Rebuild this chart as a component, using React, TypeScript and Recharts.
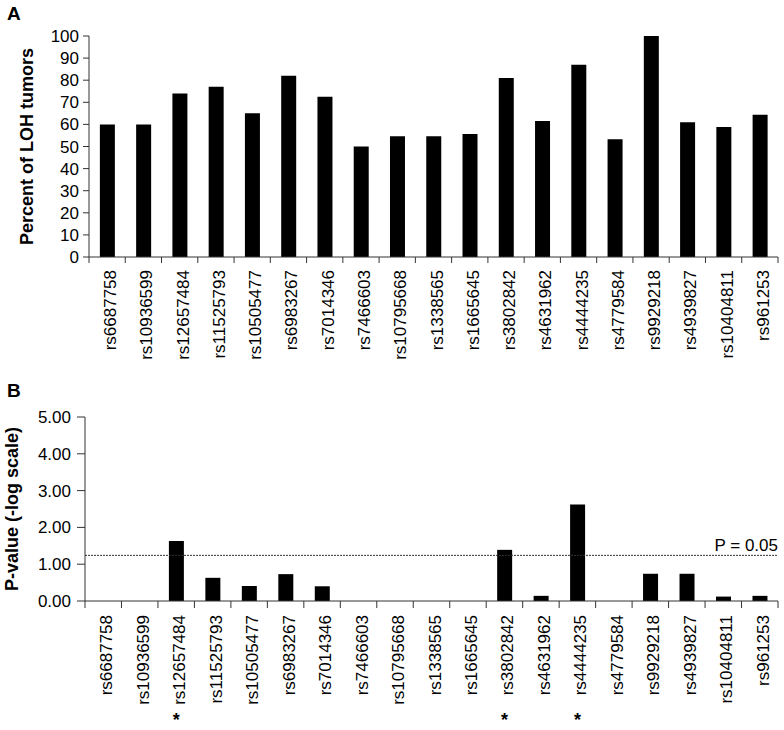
import React from 'react';
import { BarChart, Bar, XAxis, YAxis, ReferenceLine } from 'recharts';

const FONT = '"Liberation Sans", Arial, Helvetica, sans-serif';
const AXIS = '#333333';

const snps = [
  'rs6687758', 'rs10936599', 'rs12657484', 'rs11525793', 'rs10505477',
  'rs6983267', 'rs7014346', 'rs7466603', 'rs10795668', 'rs1338565',
  'rs1665645', 'rs3802842', 'rs4631962', 'rs4444235', 'rs4779584',
  'rs9929218', 'rs4939827', 'rs10404811', 'rs961253',
];
const lohPercent = [60, 60, 74, 77, 65, 82, 72.5, 50, 54.6, 54.6, 55.7, 81, 61.5, 87, 53.3, 100, 61, 58.8, 64.4];
const pValueLog = [0, 0, 1.63, 0.63, 0.41, 0.73, 0.4, 0, 0, 0, 0, 1.39, 0.14, 2.62, 0, 0.74, 0.74, 0.12, 0.14];
const significant = ['rs12657484', 'rs3802842', 'rs4444235'];
const lohTicks = [0, 10, 20, 30, 40, 50, 60, 70, 80, 90, 100];
const pTicks = [0, 1, 2, 3, 4, 5];
const pThreshold = 1.24;
const pThresholdLabel = 'P = 0.05';

const topData = snps.map((snp, i) => ({ snp, loh: lohPercent[i] }));
const bottomData = snps.map((snp, i) => ({ snp, pval: pValueLog[i] }));

const CatTick = (props: any) => {
  const { x, y, payload, index, visibleTicksCount, width, tickLen, labelGap, showStars, starGap } = props;
  const count = visibleTicksCount || snps.length;
  const half = payload && typeof payload.offset === 'number' && payload.offset > 0 ? payload.offset : width / (count * 2);
  const lx = x + 9;
  const ly = y + labelGap;
  const isLast = index === count - 1;
  const star = showStars && significant.includes(payload.value);
  return (
    <g>
      <line x1={x - half} x2={x - half} y1={y} y2={y + tickLen} stroke={AXIS} strokeWidth={1} />
      {isLast && <line x1={x + half} x2={x + half} y1={y} y2={y + tickLen} stroke={AXIS} strokeWidth={1} />}
      <text x={lx} y={ly} transform={`rotate(-90, ${lx}, ${ly})`} textAnchor="end" fontSize={17} fontFamily={FONT} fill="#000">
        {payload.value}
      </text>
      {star && (
        <text x={x} y={y + starGap} textAnchor="middle" fontSize={18} fontWeight="bold" fontFamily={FONT} fill="#000">
          *
        </text>
      )}
    </g>
  );
};

const yLabel = (text: string, bx: number) => (p: any) => {
  const vb = p.viewBox || {};
  const cy = vb.y + vb.height / 2;
  return (
    <text x={bx} y={cy} transform={`rotate(-90, ${bx}, ${cy})`} textAnchor="middle" fontSize={18} fontWeight="bold" fontFamily={FONT} fill="#000">
      {text}
    </text>
  );
};

const refLabel = (p: any) => {
  const vb = p.viewBox || {};
  return (
    <text x={vb.x + vb.width} y={vb.y - 4} textAnchor="end" fontSize={17} fontFamily={FONT} fill="#000">
      {pThresholdLabel}
    </text>
  );
};

export default function App() {
  return (
    <div style={{ position: 'absolute', left: 0, top: 0, width: 784, height: 730, overflow: 'hidden', background: '#fff', fontFamily: FONT }}>
      <div style={{ position: 'absolute', left: 7, top: 3, fontSize: 19, fontWeight: 'bold', color: '#000' }}>A</div>
      <div style={{ position: 'absolute', left: 7, top: 380, fontSize: 19, fontWeight: 'bold', color: '#000' }}>B</div>
      <div style={{ position: 'absolute', left: 0, top: 0 }}>
        <BarChart width={784} height={365} data={topData} margin={{ top: 36, right: 6, bottom: 8, left: 0 }} barCategoryGap="30%">
          <XAxis
            dataKey="snp"
            interval={0}
            height={100}
            tickSize={0}
            tickMargin={0}
            tickLine={false}
            axisLine={{ stroke: AXIS }}
            tick={(p: any) => <CatTick {...p} tickLen={6} labelGap={13} showStars={false} starGap={0} />}
          />
          <YAxis
            width={89}
            domain={[0, 100]}
            ticks={lohTicks}
            interval={0}
            tickSize={6}
            tickMargin={4}
            axisLine={{ stroke: AXIS }}
            tickLine={{ stroke: AXIS }}
            tick={{ fill: '#000', fontSize: 17, fontFamily: FONT }}
            label={{ content: yLabel('Percent of LOH tumors', 33) }}
          />
          <Bar dataKey="loh" fill="#000" isAnimationActive={false} />
        </BarChart>
      </div>
      <div style={{ position: 'absolute', left: 0, top: 365 }}>
        <BarChart width={784} height={365} data={bottomData} margin={{ top: 52, right: 6, bottom: 9, left: 0 }} barCategoryGap="30%">
          <XAxis
            dataKey="snp"
            interval={0}
            height={120}
            tickSize={0}
            tickMargin={0}
            tickLine={false}
            axisLine={{ stroke: AXIS }}
            tick={(p: any) => <CatTick {...p} tickLen={7} labelGap={14} showStars={true} starGap={125} />}
          />
          <YAxis
            width={85}
            domain={[0, 5]}
            ticks={pTicks}
            interval={0}
            tickSize={8}
            tickMargin={6}
            axisLine={{ stroke: AXIS }}
            tickLine={{ stroke: AXIS }}
            tickFormatter={(v: number) => v.toFixed(2)}
            tick={{ fill: '#000', fontSize: 17, fontFamily: FONT }}
            label={{ content: yLabel('P-value (-log scale)', 18) }}
          />
          <ReferenceLine y={pThreshold} stroke={AXIS} strokeDasharray="2 1" strokeWidth={1} label={{ content: refLabel }} />
          <Bar dataKey="pval" fill="#000" isAnimationActive={false} />
        </BarChart>
      </div>
    </div>
  );
}
